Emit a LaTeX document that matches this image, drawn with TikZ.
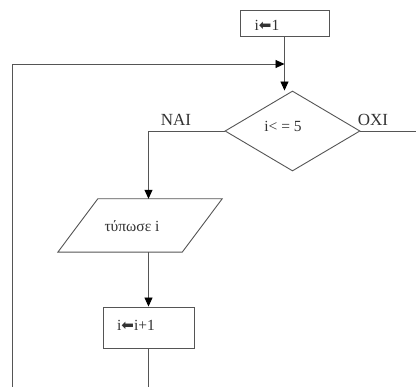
\documentclass[tikz,border=0pt]{standalone}
\usepackage{fontspec}
\setmainfont{Liberation Serif}
\newfontfamily\arrfont{DejaVu Sans}
\usetikzlibrary{shapes.geometric,arrows.meta}
\definecolor{ln}{HTML}{555555}
\definecolor{tx}{HTML}{333333}
\newcommand{\asg}{{\arrfont\fontsize{15}{15}\selectfont ⬅}}
\tikzset{
  box/.style={draw=ln, line width=0.9pt, rectangle, inner sep=0pt},
  txt/.style={text=tx, inner sep=0pt, font=\fontsize{15.5}{15.5}\selectfont},
  lbl/.style={text=tx, inner sep=0pt, font=\fontsize{17}{17}\selectfont},
  conn/.style={draw=ln, line width=0.9pt},
  arr/.style={conn, -{Triangle[length=9pt,width=8pt,fill=black,color=black]}}
}
\begin{document}
\begin{tikzpicture}[x=1pt,y=-1pt]
\useasboundingbox[fill=white] (0,0) rectangle (416,387);
% start box
\node[box, minimum width=89pt, minimum height=26pt] (b1) at (284.5,23) {};
\node[txt] (t1) at (267,25) {i\asg 1};
% decision
\node[draw=ln, line width=0.9pt, diamond, inner sep=0pt, minimum width=135pt, minimum height=80pt] (d) at (292.5,131) {};
\node[txt] (td) at (283,126) {i< = 5};
% output (parallelogram)
\node[inner sep=0pt, minimum width=124pt, minimum height=53pt] (p) at (140,225.5) {};
\draw[draw=ln, line width=0.9pt, line join=miter]
  ([xshift=-20pt]p.south west) -- ([xshift=-20pt]p.south east)
  -- ([xshift=20pt]p.north east) -- ([xshift=20pt]p.north west) -- cycle;
\node[txt] (tp) at (132,226) {τύπωσε i};
% increment
\node[box, minimum width=91pt, minimum height=41pt] (b2) at (148.5,327.5) {};
\node[txt] (t2) at (136,325) {i\asg i+1};
% labels
\node[lbl] (nai) at (176,120) {NAI};
\node[lbl] (oxi) at (373,120) {OXI};
% connectors
\coordinate (lb) at (12,387);
\coordinate (lt) at (12,64);
\coordinate (re) at (416,131);
\coordinate (bb) at (148.5,387);
\draw[arr] (b1.south) -- (b1.south |- d.north);
\draw[arr] (lb) -- (lt) -- (lt -| b1.south);
\draw[arr] (d.west) -| (b2.north |- p.north);
\draw[arr] (b2.north |- p.south) -- (b2.north);
\draw[conn] (b2.south) -- (bb);
\draw[conn] (d.east) -- (re);
\end{tikzpicture}
\end{document}
